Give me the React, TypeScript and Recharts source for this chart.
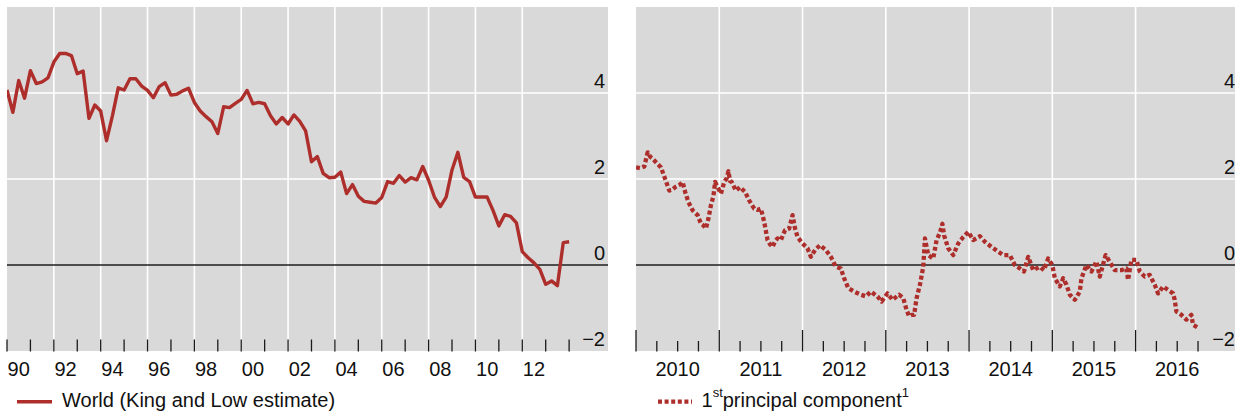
import React from 'react';
import { LineChart, Line, XAxis, YAxis, CartesianGrid, ReferenceLine } from 'recharts';

const FONT = '"Liberation Sans", Arial, Helvetica, sans-serif';
const RED = '#ad2e2a';
const BG = '#d9d9d9';
const INK = '#111111';

// ---------- Left panel: World (King and Low estimate), quarterly from 1990Q1 ----------
const worldStart = 1990;
const worldValues = [
  4.07, 3.55, 4.29, 3.88, 4.52, 4.22, 4.26, 4.35, 4.72, 4.92,
  4.92, 4.87, 4.45, 4.51, 3.41, 3.72, 3.58, 2.89, 3.47, 4.12,
  4.07, 4.33, 4.33, 4.16, 4.06, 3.89, 4.15, 4.24, 3.95, 3.97,
  4.05, 4.11, 3.78, 3.58, 3.45, 3.33, 3.06, 3.68, 3.66, 3.76,
  3.85, 4.06, 3.75, 3.78, 3.75, 3.47, 3.28, 3.43, 3.28, 3.49,
  3.34, 3.12, 2.40, 2.52, 2.13, 2.03, 2.04, 2.16, 1.66, 1.87,
  1.60, 1.48, 1.46, 1.44, 1.57, 1.94, 1.90, 2.08, 1.93, 2.03,
  1.98, 2.29, 1.97, 1.58, 1.36, 1.58, 2.21, 2.62, 2.04, 1.94,
  1.58, 1.58, 1.58, 1.27, 0.91, 1.17, 1.13, 0.98, 0.31, 0.17,
  0.05, -0.10, -0.45, -0.37, -0.48, 0.52, 0.54,
];
const worldData = worldValues.map((v, i) => ({ t: worldStart + i * 0.25, v }));

const leftDomain = [1990, 2015.66];
const leftTickYears = [
  1990, 1991, 1992, 1993, 1994, 1995, 1996, 1997, 1998, 1999, 2000, 2001, 2002,
  2003, 2004, 2005, 2006, 2007, 2008, 2009, 2010, 2011, 2012, 2013, 2014,
];
const leftLabelYears = [1990, 1992, 1994, 1996, 1998, 2000, 2002, 2004, 2006, 2008, 2010, 2012];
const leftGridYears = [1992, 1994, 1996, 1998, 2000, 2002, 2004, 2006, 2008, 2010, 2012];

// ---------- Right panel: 1st principal component ----------
const pcDates = [
  2010.00, 2010.05, 2010.10, 2010.14, 2010.17, 2010.20, 2010.24, 2010.30, 2010.35, 2010.40,
  2010.44, 2010.47, 2010.52, 2010.56, 2010.59, 2010.63, 2010.68, 2010.74, 2010.78, 2010.81,
  2010.84, 2010.87, 2010.90, 2010.93, 2010.95, 2010.98, 2011.02, 2011.06, 2011.09, 2011.11,
  2011.13, 2011.15, 2011.20, 2011.25, 2011.31, 2011.36, 2011.42, 2011.46, 2011.50, 2011.54,
  2011.58, 2011.61, 2011.64, 2011.67, 2011.70, 2011.74, 2011.79, 2011.84, 2011.88, 2011.91,
  2011.94, 2012.00, 2012.06, 2012.10, 2012.15, 2012.21, 2012.28, 2012.34, 2012.40, 2012.46,
  2012.50, 2012.55, 2012.62, 2012.70, 2012.76, 2012.82, 2012.90, 2012.95, 2013.02, 2013.08,
  2013.16, 2013.21, 2013.25, 2013.28, 2013.31, 2013.34, 2013.37, 2013.41, 2013.45, 2013.47,
  2013.51, 2013.57, 2013.61, 2013.65, 2013.68, 2013.70, 2013.75, 2013.81, 2013.87, 2013.93,
  2013.99, 2014.05, 2014.13, 2014.19, 2014.27, 2014.35, 2014.41, 2014.49, 2014.55, 2014.61,
  2014.66, 2014.71, 2014.77, 2014.85, 2014.90, 2014.95, 2015.00, 2015.03, 2015.09, 2015.13,
  2015.17, 2015.21, 2015.27, 2015.33, 2015.35, 2015.41, 2015.47, 2015.53, 2015.57, 2015.64,
  2015.70, 2015.75, 2015.83, 2015.89, 2015.91, 2015.95, 2016.01, 2016.05, 2016.11, 2016.17,
  2016.23, 2016.27, 2016.33, 2016.39, 2016.45, 2016.47, 2016.49, 2016.55, 2016.61, 2016.67,
  2016.69, 2016.74,
];
const pcValues = [
  2.27, 2.25, 2.29, 2.62, 2.52, 2.47, 2.39, 2.27, 2.00, 1.73,
  1.76, 1.81, 1.86, 1.93, 1.70, 1.46, 1.27, 1.16, 0.96, 0.92,
  0.85, 1.08, 1.39, 1.60, 1.93, 1.81, 1.66, 1.93, 2.02, 2.18,
  1.95, 1.93, 1.73, 1.81, 1.70, 1.50, 1.31, 1.28, 1.31, 1.00,
  0.58, 0.48, 0.42, 0.55, 0.62, 0.58, 0.81, 0.85, 1.16, 0.85,
  0.65, 0.50, 0.39, 0.19, 0.35, 0.46, 0.35, 0.19, -0.04, -0.08,
  -0.31, -0.54, -0.62, -0.69, -0.73, -0.62, -0.73, -0.85, -0.66, -0.81,
  -0.69, -0.77, -1.05, -1.19, -1.16, -1.16, -0.77, -0.46, -0.04, 0.62,
  0.23, 0.15, 0.58, 0.75, 0.96, 0.69, 0.39, 0.23, 0.50, 0.65,
  0.77, 0.58, 0.67, 0.54, 0.42, 0.31, 0.23, 0.23, 0.00, -0.08,
  -0.15, 0.19, -0.12, -0.04, -0.12, 0.15, 0.00, -0.31, -0.50, -0.31,
  -0.46, -0.69, -0.81, -0.62, -0.31, 0.00, -0.15, 0.08, -0.27, 0.23,
  0.04, -0.12, -0.12, -0.08, -0.35, 0.12, 0.12, -0.15, -0.27, -0.23,
  -0.46, -0.66, -0.50, -0.58, -0.66, -0.81, -1.08, -1.16, -1.27, -1.16,
  -1.39, -1.45,
];
const pcData = pcDates.map((t, i) => ({ t, v: pcValues[i] }));

const rightDomain = [2010, 2017.23];
const rightTickQuarters = [
  2010, 2010.25, 2010.5, 2010.75, 2011, 2011.25, 2011.5, 2011.75,
  2012, 2012.25, 2012.5, 2012.75, 2013, 2013.25, 2013.5, 2013.75,
  2014, 2014.25, 2014.5, 2014.75, 2015, 2015.25, 2015.5, 2015.75,
  2016, 2016.25, 2016.5, 2016.75,
];
const rightLabelYears = [2010, 2011, 2012, 2013, 2014, 2015, 2016];
const rightGridYears = [2011, 2012, 2013, 2014, 2015, 2016];

// ---------- Shared y axis ----------
const yDomain = [-2, 6];
const yTicks = [-2, 0, 2, 4];
const yGridWhite = [2, 4];

const fmtY = (v: number) => (v < 0 ? '\u2212' + Math.abs(v) : String(v));

const makeMarkTick = (lenFor: (v: number) => number) => (props: any) => {
  const { x, y, payload } = props;
  const len = lenFor(payload.value);
  return <line x1={x} x2={x} y1={y - len} y2={y - 0.5} stroke="#1a1a1a" strokeWidth={1.3} />;
};

const makeLabelTick = (fmt: (v: number) => string) => (props: any) => {
  const { x, y, payload } = props;
  return (
    <text x={x} y={y + 24.5} textAnchor="middle" fontSize={20} fontFamily={FONT} fill={INK}>
      {fmt(payload.value)}
    </text>
  );
};

const YTick = (props: any) => {
  const { x, y, payload } = props;
  return (
    <text x={x - 3} y={y - 5.5} textAnchor="end" fontSize={20} fontFamily={FONT} fill={INK}>
      {fmtY(payload.value)}
    </text>
  );
};

const leftMark = makeMarkTick(() => 12.5);
const rightMark = makeMarkTick((v) => (Math.abs(v - Math.round(v)) < 1e-6 ? 22 : 11));
const leftLabel = makeLabelTick((v) => String(Math.floor(v) % 100).padStart(2, '0'));
const rightLabel = makeLabelTick((v) => String(Math.floor(v)));

const PLOT_TOP = 7;
const PLOT_BOTTOM = 351;
const H = 416;

function Panel(props: {
  width: number;
  left: number;
  right: number;
  data: { t: number; v: number }[];
  domain: number[];
  markTicks: number[];
  labelTicks: number[];
  gridX: number[];
  markTick: any;
  labelTick: any;
  dashed?: boolean;
}) {
  const { width, left, right, data, domain, markTicks, labelTicks, gridX, markTick, labelTick, dashed } = props;
  return (
    <LineChart
      width={width}
      height={H}
      data={data}
      margin={{ top: PLOT_TOP, left, right: right - 1, bottom: H - PLOT_BOTTOM - 2 }}
    >
      <CartesianGrid horizontal={false} vertical={false} fill={BG} fillOpacity={1} stroke="none" />
      <XAxis
        xAxisId="m"
        dataKey="t"
        type="number"
        domain={domain as any}
        ticks={markTicks}
        interval={0}
        height={1}
        tickSize={0}
        tickMargin={0}
        axisLine={false}
        tickLine={false}
        tick={markTick}
        allowDataOverflow
      />
      <XAxis
        xAxisId="l"
        dataKey="t"
        type="number"
        domain={domain as any}
        ticks={labelTicks}
        interval={0}
        height={1}
        tickSize={0}
        tickMargin={0}
        axisLine={false}
        tickLine={false}
        tick={labelTick}
        allowDataOverflow
      />
      <YAxis
        yAxisId="y"
        orientation="right"
        type="number"
        domain={yDomain as any}
        ticks={yTicks}
        interval={0}
        width={1}
        tickSize={0}
        tickMargin={0}
        axisLine={false}
        tickLine={false}
        tick={YTick}
        allowDataOverflow
      />
      {gridX.map((g) => (
        <ReferenceLine key={'gx' + g} xAxisId="m" yAxisId="y" x={g} stroke="#ffffff" strokeWidth={1.6} zIndex={-90} />
      ))}
      {yGridWhite.map((g) => (
        <ReferenceLine key={'gy' + g} xAxisId="m" yAxisId="y" y={g} stroke="#ffffff" strokeWidth={1.6} zIndex={-90} />
      ))}
      <ReferenceLine xAxisId="m" yAxisId="y" y={0} stroke="#1e1e1e" strokeWidth={1.6} zIndex={-80} />
      <Line
        xAxisId="m"
        yAxisId="y"
        dataKey="v"
        type="linear"
        stroke={RED}
        strokeWidth={dashed ? 4.3 : 3.4}
        strokeDasharray={dashed ? '4 2.6' : undefined}
        strokeLinejoin="round"
        dot={false}
        activeDot={false}
        isAnimationActive={false}
      />
    </LineChart>
  );
}

const leftLegendLabel = 'World (King and Low estimate)';

export default function App() {
  return (
    <div
      style={{
        position: 'absolute',
        left: 0,
        top: 0,
        width: 1235,
        height: 416,
        overflow: 'hidden',
        background: '#ffffff',
        fontFamily: FONT,
      }}
    >
      <div style={{ position: 'absolute', left: 0, top: 0 }}>
        <Panel
          width={620}
          left={7}
          right={12}
          data={worldData}
          domain={leftDomain}
          markTicks={leftTickYears}
          labelTicks={leftLabelYears.map((y) => y + 0.5)}
          gridX={leftGridYears}
          markTick={leftMark}
          labelTick={leftLabel}
        />
      </div>
      <div style={{ position: 'absolute', left: 620, top: 0 }}>
        <Panel
          width={630}
          left={16}
          right={12}
          data={pcData}
          domain={rightDomain}
          markTicks={rightTickQuarters}
          labelTicks={rightLabelYears.map((y) => y + 0.5)}
          gridX={rightGridYears}
          markTick={rightMark}
          labelTick={rightLabel}
          dashed
        />
      </div>
      <svg
        width={1235}
        height={416}
        style={{ position: 'absolute', left: 0, top: 0, pointerEvents: 'none' }}
      >
        <line x1={17} x2={52} y1={401.7} y2={401.7} stroke={RED} strokeWidth={3.4} />
        <text x={62} y={406.5} fontSize={20} fontFamily={FONT} fill={INK}>
          {leftLegendLabel}
        </text>
        <line x1={658} x2={692} y1={401.7} y2={401.7} stroke={RED} strokeWidth={4.3} strokeDasharray="4 2.6" />
        <text x={701.5} y={406.5} fontSize={20} fontFamily={FONT} fill={INK}>
          1
          <tspan fontSize={13} dy={-10}>st</tspan>
          <tspan dy={10}>principal component</tspan>
          <tspan fontSize={13} dy={-10}>1</tspan>
        </text>
      </svg>
    </div>
  );
}
